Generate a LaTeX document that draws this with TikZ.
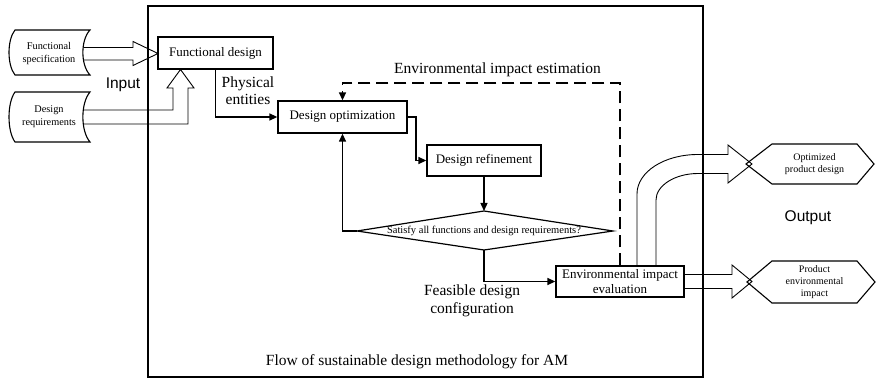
\documentclass[tikz,border=0pt]{standalone}
\usepackage{fontspec}
\setmainfont{Liberation Serif}
\setsansfont{Liberation Sans}
\usetikzlibrary{arrows.meta}

\begin{document}
\begin{tikzpicture}[x=1pt,y=-1pt,
  box/.style={draw, line width=1.3pt, inner sep=0pt, align=center,
    font=\fontsize{13}{15}\selectfont},
  lbl/.style={align=center, font=\fontsize{15.5}{17.5}\selectfont},
  iolbl/.style={font=\sffamily\fontsize{15.5}{18}\selectfont},
  smalltxt/.style={align=center, font=\fontsize{10.3}{13}\selectfont},
  hextxt/.style={align=center, font=\fontsize{10}{12}\selectfont},
  flow/.style={line width=1.3pt, -{Triangle[length=8pt,width=7pt]}},
  dashline/.style={line width=1.5pt, dash pattern=on 12pt off 6pt,
    -{Triangle[length=8pt,width=7pt]}},
  hollow/.style={line width=0.9pt, line join=miter},
  outline/.style={line width=1.1pt},
]
\useasboundingbox (0,0) rectangle (876,379);

% frame of the methodology
\draw[line width=1.2pt] (148,6) rectangle (703,377);
\node[lbl] (caption) at (417,362) {Flow of sustainable design methodology for AM};

% inputs
\draw[outline] (15,30) -- (90,30) .. controls (80.5,40) and (80.5,65) .. (90,75)
  -- (15,75) .. controls (7,65) and (7,40) .. (15,30) -- cycle;
\node[smalltxt] (fspec) at (49,54) {Functional\\specification};
\draw[outline] (15,92) -- (90,92) .. controls (80.5,103) and (80.5,131) .. (90,142)
  -- (15,142) .. controls (7,131) and (7,103) .. (15,92) -- cycle;
\node[smalltxt] (dreq) at (49,117) {Design\\requirements};
\node[iolbl] (input) at (123,85) {Input};

% process boxes
\node[box, minimum width=115pt, minimum height=32pt] (fd) at (215.5,53) {Functional design};
\node[box, minimum width=129pt, minimum height=32pt] (do) at (342.5,117) {Design optimization};
\node[box, minimum width=114pt, minimum height=31pt] (dr) at (484,160.5) {Design refinement};
\node[box, minimum width=128pt, minimum height=31pt] (eie) at (620,281.5) {Environmental impact\\evaluation};

% decision
\node[font=\fontsize{10.5}{12}\selectfont, inner sep=0pt] (dec) at (484,231) {Satisfy all functions and design requirements?};
\coordinate (decN) at (484,211);
\coordinate (decE) at (613,231);
\coordinate (decS) at (484,250);
\coordinate (decW) at (357,231);
\draw[line width=1.2pt, line join=miter] (decN) -- (decE) -- (decS) -- (decW) -- cycle;

% hollow input arrows
\draw[hollow] (83.3,47.5) -- (133,47.5) -- (133,41.5) -- (158,53.5) -- (133,65.5)
  -- (133,60) -- (83.3,60);
\draw[hollow] (83.5,124) -- (188,124) -- (188,88) -- (194,88) -- (180.5,69.5)
  -- (167,88) -- (173,88) -- (173,110) -- (83.5,110);

% flow connectors
\draw[flow] (fd.south) |- (do.west);
\node[lbl] (phys) at (248,90.5) {Physical\\entities};
\draw[flow] (do.east) -- (416,117) |- (dr.west);
\draw[flow] (dr.south) -- (decN);
\draw[flow] (decW) -| (do.south);
\draw[flow] (decS) |- (eie.west);
\node[lbl, font=\fontsize{15.5}{18}\selectfont] (feas) at (472,301) {Feasible design\\configuration};
\draw[dashline] (eie.north) -- (620,83) -| (do.north);
\node[lbl] (est) at (497.5,70) {Environmental impact estimation};

% outputs
\draw[hollow] (637,266) -- (637,194) .. controls (637,172) and (664,154.5) .. (698,154.5)
  -- (728,154.5) -- (728,145) -- (752,164) -- (728,183) -- (728,173.5) -- (698,173.5)
  .. controls (675,173.5) and (656,185.5) .. (656,200) -- (656,266);
\draw[hollow] (684,274.5) -- (732,274.5) -- (732,265) -- (752,281.5) -- (732,298)
  -- (732,288.5) -- (684,288.5);

\draw[outline, line join=miter] (746,164) -- (772,144) -- (857,144) -- (874,164)
  -- (857,184) -- (772,184) -- cycle;
\node[hextxt] (opt) at (814.5,164) {Optimized\\product design};
\draw[outline, line join=miter] (747,282) -- (772,261) -- (857,261) -- (875,282)
  -- (857,303) -- (772,303) -- cycle;
\node[hextxt] (pei) at (814.5,282) {Product\\environmental\\impact};
\node[iolbl] (output) at (808,218) {Output};
\end{tikzpicture}
\end{document}
